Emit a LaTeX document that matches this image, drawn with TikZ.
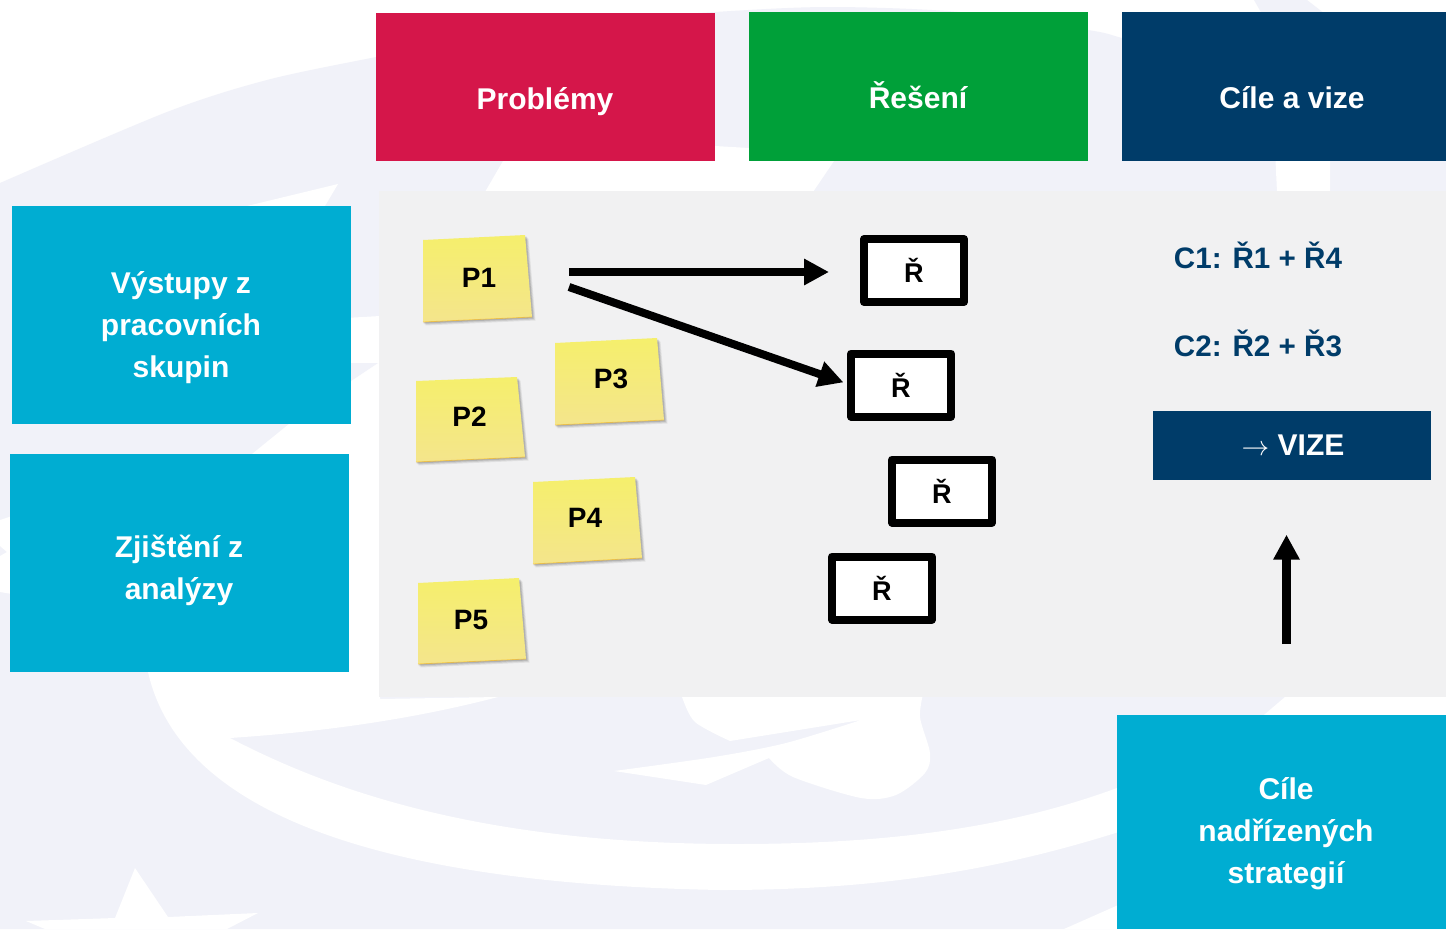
\documentclass[tikz,border=0pt]{standalone}
\usepackage{fontspec}
\setmainfont{Liberation Sans}
\usetikzlibrary{arrows.meta}
\definecolor{lav}{HTML}{F1F2F9}
\definecolor{panelgray}{HTML}{F1F1F2}
\definecolor{cred}{HTML}{D5164A}
\definecolor{cgreen}{HTML}{00A039}
\definecolor{cnavy}{HTML}{003C69}
\definecolor{ccyan}{HTML}{00ADD2}
\definecolor{notetop}{HTML}{F5EF6C}
\definecolor{notebot}{HTML}{F4E58C}
\tikzset{
  blockbox/.style={inner sep=0pt,outer sep=0pt,draw=none},
  headtext/.style={text=white,font=\bfseries\fontsize{22.5}{31.5}\selectfont,align=center,inner sep=0pt},
  notetext/.style={text=black,font=\bfseries\fontsize{21}{24}\selectfont,inner sep=0pt},
  goaltext/.style={text=cnavy,font=\bfseries\fontsize{22.2}{27}\selectfont,inner sep=0pt},
  solbox/.style={draw=black,fill=white,line width=6pt,line join=round,minimum width=75pt,minimum height=47.25pt,inner sep=0pt,outer sep=0pt,font=\bfseries\fontsize{20.3}{24}\selectfont},
  bigarrow/.style={draw=black,line width=6pt,-{Triangle[length=18.75pt,width=18.75pt]}},
  bg/.style={fill=white,draw=none}
}
\newcommand{\blockat}[6]{%
  \pgfmathsetmacro{\bx}{(#2+#4)/2}\pgfmathsetmacro{\by}{(#3+#5)/2}%
  \pgfmathsetmacro{\bw}{(#4-#2)*0.75}\pgfmathsetmacro{\bh}{(#5-#3)*0.75}%
  \node[blockbox,fill=#6,minimum width=\bw pt,minimum height=\bh pt] (#1) at (\bx,\by) {};}
\newcommand{\sticky}[8]{%
  \foreach \s/\o in {3.5/.10,2.5/.14,1.5/.20}{%
    \fill[black!70,opacity=\o] (#1+\s-1,#2+\s) -- (#3+\s,#4+\s) -- (#5+\s,#6+\s) -- (#7+\s-1,#8+\s) -- cycle;}
  \shade[top color=notetop,bottom color=notebot] (#1,#2) -- (#3,#4) -- (#5,#6) -- (#7,#8) -- cycle;
  \draw[color=orange!60!yellow,line width=.6pt,opacity=.5] (#7,#8) -- (#5,#6);}
\begin{document}
\begin{tikzpicture}[x=.75pt,y=-.75pt]
\useasboundingbox (0,0) rectangle (1446,929);
\fill[white] (0,0) rectangle (1446,929);
% background swoosh
\fill[lav] plot[smooth] coordinates {(0,183) (167,112) (267,80) (376,57) (540,25) (715,12) (830,7) (960,12) (1088,30) (1122,38) (1200,60)} -- (1446,60) -- (1446,929) -- (0,929) -- cycle;
\fill[lav] (1254,0) -- (1307,0) -- (1325,14) -- (1262,14) -- cycle;
\fill[bg] (1275,150) -- (1330,150) -- (1330,192) -- (1277,192) -- cycle;
\fill[bg] (485,192) -- (503,161) -- (510,146) -- (715,146) -- (749,148) -- (842,152) -- (834,161) -- (813,192) -- cycle;
\fill[bg] (338,184) -- (247,206) -- (300,215) -- (325,206) -- cycle;
\fill[bg] (345,318) -- (380,316) -- (380,699) -- (498,697)
  .. controls (410,720) and (320,732) .. (230,738)
  .. controls (330,790) and (480,844) .. (736,844)
  .. controls (900,844) and (1020,825) .. (1125,785)
  -- (1125,830)
  .. controls (1000,870) and (880,890) .. (721,890)
  .. controls (440,885) and (185,835) .. (148,672)
  -- (146,650) -- (200,500) -- (252,454) -- (289,424) -- cycle;
\fill[lav] (351,363) -- (378,363) -- (351,381) -- cycle;
\fill[bg] plot[smooth] coordinates {(682,690) (682,697) (695,722) (730,741)} -- (861,720)
  -- plot[smooth] coordinates {(861,720) (786,743) (714,757) (614,771)}
  -- (706,785) -- (769,758)
  -- plot[smooth] coordinates {(769,758) (793,777) (861,798) (896,795) (925,773) (930,753) (920,717) (924,690)} -- cycle;
\fill[bg] (135,868) -- (115,918) -- (26,921) -- (45,929) -- (227,929) -- (258,913) -- (168,917) -- cycle;
\fill[bg] (1064,929) -- (1125,902) -- (1125,929) -- cycle;
\fill[bg] (1285,697) -- (1446,697) -- (1446,720) -- (1258,720) -- cycle;
\fill[bg] (0,520) -- (12,516) -- (12,594) -- (0,592) -- (0,556) -- (7,552) -- (0,546) -- cycle;
% panel and blocks
\blockat{panel}{379}{191}{1446}{697}{panelgray}
\blockat{bproblems}{376}{13}{715}{161}{cred}
\blockat{bsolutions}{749}{12}{1088}{161}{cgreen}
\blockat{bgoals}{1122}{12}{1446}{161}{cnavy}
\blockat{bwork}{12}{206}{351}{424}{ccyan}
\blockat{banalysis}{10}{454}{349}{672}{ccyan}
\blockat{bstrategy}{1117}{715}{1446}{929}{ccyan}
\blockat{vize}{1153}{411}{1431}{480}{cnavy}
\node[headtext] (tproblems) at (545,102) {Problémy};
\node[headtext] (tsolutions) at (918,95) {Řešení};
\node[headtext] (tgoals) at (1292,98) {Cíle a vize};
\node[headtext] (twork) at (181,328) {Výstupy z\\pracovních\\skupin};
\node[headtext] (tanalysis) at (179,570) {Zjištění z\\analýzy};
\node[headtext] (tstrategy) at (1286,834) {Cíle\\nadřízených\\strategií};
\node[headtext] (tvize) at (1293,445) {{\mdseries$\rightarrow$} VIZE};
% sticky notes
\sticky{423}{240}{525}{235}{532}{317}{423}{322}
\sticky{555}{343}{657}{338}{664}{420}{555}{425}
\sticky{416}{381}{517}{377}{525}{457}{416}{462}
\sticky{533}{482}{635}{477}{642}{558}{533}{564}
\sticky{418}{583}{519}{578}{526}{659}{418}{664}
\node[notetext] (p1) at (479,278) {P1};
\node[notetext] (p2) at (469.5,417) {P2};
\node[notetext] (p3) at (611,379) {P3};
\node[notetext] (p4) at (585,518) {P4};
\node[notetext] (p5) at (471,620) {P5};
% solutions
\node[solbox] (r1) at (914,270.5) {Ř};
\node[solbox] (r2) at (901,385) {Ř};
\node[solbox] (r3) at (942,491) {Ř};
\node[solbox] (r4) at (882,588) {Ř};
% goals
\node[goaltext] (c1) at (1258,255) {C1: Ř1 + Ř4};
\node[goaltext] (c2) at (1258,343) {C2: Ř2 + Ř3};
% connectors
\coordinate (a1s) at (569,272);
\coordinate (a2s) at (569,287);
\coordinate (a3s) at (1286.5,644);
\draw[bigarrow,shorten >=26.25pt] (a1s) -- (a1s -| r1.west);
\draw[bigarrow,shorten >=6pt] (a2s) -- (r2.west);
\draw[bigarrow,line width=6.6pt,shorten >=41pt] (a3s) -- (a3s |- vize.south);
\end{tikzpicture}
\end{document}
